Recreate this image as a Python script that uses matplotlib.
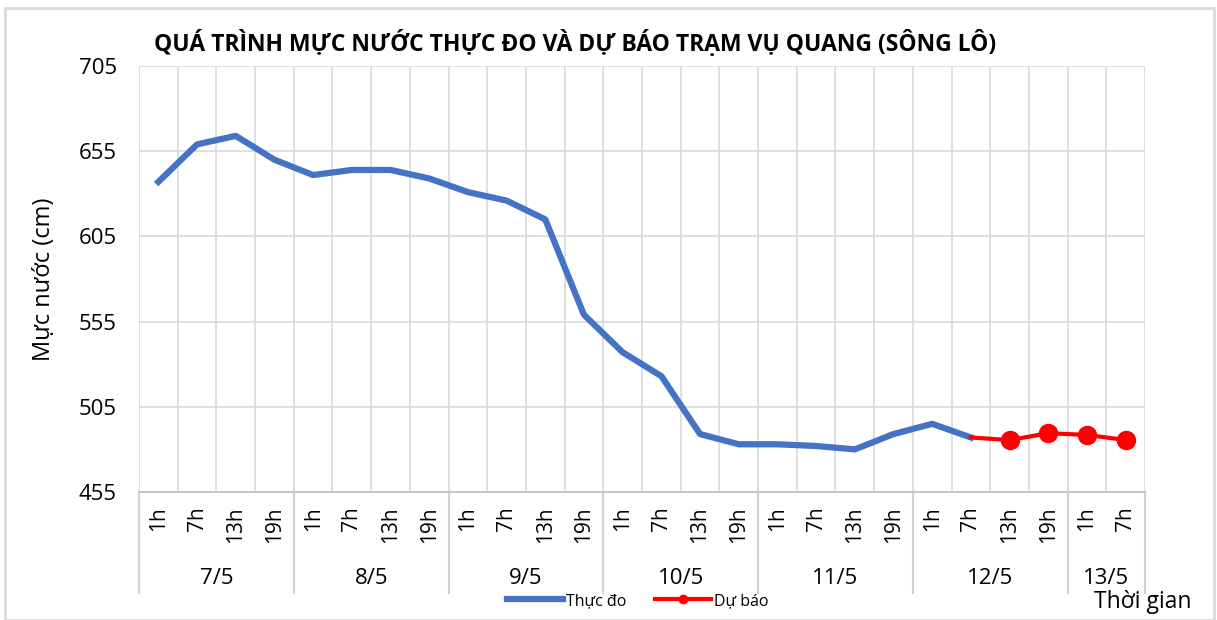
import numpy as np
import matplotlib.pyplot as plt
from matplotlib.patches import Rectangle

plt.rcParams['font.family'] = ['Open Sans', 'DejaVu Sans']

# Data
hours = ['1h', '7h', '13h', '19h'] * 6 + ['1h', '7h']
days = ['7/5', '8/5', '9/5', '10/5', '11/5', '12/5', '13/5']
day_sizes = [4, 4, 4, 4, 4, 4, 2]
observed = [637, 659, 664, 650, 641, 644, 644, 639,
            631, 626, 615, 559, 537, 523, 489, 483,
            483, 482, 480, 489, 495, 487]
forecast_idx = [21, 22, 23, 24, 25]
forecast = [487, 485.5, 489.5, 488.5, 485.5]

fig = plt.figure(figsize=(12.17, 6.2), dpi=100)
ax = fig.add_axes([139/1217, 1 - 492/620, (1145 - 139)/1217, (492 - 66)/620])

x = np.arange(len(hours))
ax.plot(x[:len(observed)], observed, color='#4472c4', lw=4.5, solid_joinstyle='round',
        label='Thực đo', zorder=3)
ax.plot(forecast_idx, forecast, color='#ff0000', lw=3, marker='o', markersize=13,
        markevery=[1, 2, 3, 4], label='Dự báo', zorder=4)

ax.set_xlim(-0.5, len(hours) - 0.5)
ax.set_ylim(455, 705)
ax.set_yticks(np.arange(455, 706, 50))
ax.set_xticks(x, hours, rotation=90)
ax.set_xticks(np.arange(-0.5, len(hours), 0.5), minor=True)
ax.tick_params(axis='x', which='both', length=0, pad=10, labelsize=15)
ax.tick_params(axis='y', length=0, pad=16, labelsize=16)
ax.grid(True, which='major', axis='y', color='#d9d9d9', lw=1.2)
ax.grid(True, which='minor', axis='x', color='#d9d9d9', lw=1.2)
for s in ['top', 'right', 'left']:
    ax.spines[s].set_visible(False)
ax.spines['bottom'].set_color('#c8c8c8')
ax.spines['bottom'].set_linewidth(1.5)

# day group labels and separators
tr = ax.get_xaxis_transform()
start = -0.5
for d, n in zip(days, day_sizes):
    ax.plot([start, start], [0, -0.237], transform=tr, color='#d0d0d0', lw=1.5, clip_on=False)
    ax.text(start + n / 2, -0.202, d, transform=tr, ha='center', va='center', fontsize=16)
    start += n
ax.plot([start, start], [0, -0.237], transform=tr, color='#d0d0d0', lw=1.5, clip_on=False)

ax.set_ylabel('Mực nước (cm)', fontsize=17)
ax.yaxis.set_label_coords(-0.083, 0.5)

fig.text(575/1217, 1 - 43/620, 'QUÁ TRÌNH MỰC NƯỚC THỰC ĐO VÀ DỰ BÁO TRẠM VỤ QUANG (SÔNG LÔ)',
         ha='center', va='center', fontsize=16.5, fontweight='bold')
fig.text(1143/1217, 1 - 602/620, 'Thời gian', ha='center', va='center', fontsize=16.5)

leg = fig.legend(loc='center', bbox_to_anchor=(638/1217, 1 - 601/620), ncol=2, frameon=False,
                 fontsize=11.5, handlelength=3.5, handletextpad=0.2, columnspacing=1.8)
for h in leg.legend_handles:
    h.set_markersize(6)

fig.add_artist(Rectangle((5/1217, 0), (1214 - 5)/1217, 1 - 8/620, transform=fig.transFigure,
                         fill=False, edgecolor='#d9d9d9', lw=2))

fig.savefig('out.png', dpi=100)
